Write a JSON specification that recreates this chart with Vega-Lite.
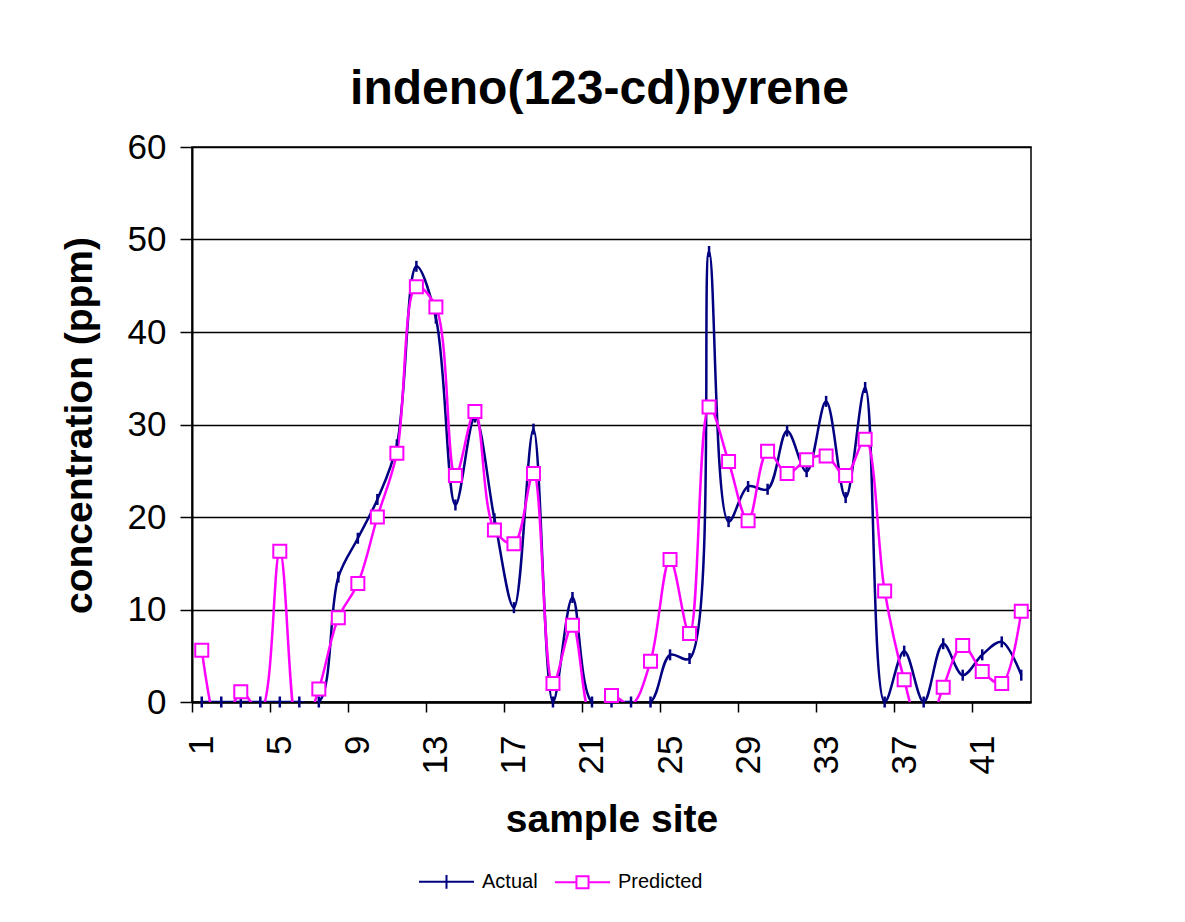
{
  "$schema": "https://vega.github.io/schema/vega-lite/v6.json",
  "width": 839,
  "height": 555,
  "autosize": {"type": "none"},
  "padding": {"left": 192, "top": 147, "right": 154, "bottom": 220},
  "background": "white",
  "config": {
    "font": "Liberation Sans",
    "view": {"stroke": "black", "strokeWidth": 1.5},
    "axis": {"labelFont": "Liberation Sans", "titleFont": "Liberation Sans", "labelColor": "black", "titleColor": "black", "domainColor": "black", "tickColor": "black", "gridColor": "black"},
    "legend": {"labelFont": "Liberation Sans", "labelColor": "black"}
  },
  "title": {"text": "indeno(123-cd)pyrene", "fontSize": 48, "fontWeight": "bold", "font": "Liberation Sans", "color": "black", "anchor": "middle", "dx": -12, "offset": -22, "baseline": "alphabetic"},
  "data": {"values": [
    {"site":1,"series":"Actual","value":0},{"site":2,"series":"Actual","value":0},{"site":3,"series":"Actual","value":0},{"site":4,"series":"Actual","value":0},{"site":5,"series":"Actual","value":0},{"site":6,"series":"Actual","value":0},{"site":7,"series":"Actual","value":0},{"site":8,"series":"Actual","value":13.5},{"site":9,"series":"Actual","value":17.7},{"site":10,"series":"Actual","value":21.9},{"site":11,"series":"Actual","value":27.8},{"site":12,"series":"Actual","value":47.1},{"site":13,"series":"Actual","value":41.5},{"site":14,"series":"Actual","value":21.3},{"site":15,"series":"Actual","value":30.8},{"site":16,"series":"Actual","value":19.8},{"site":17,"series":"Actual","value":10.2},{"site":18,"series":"Actual","value":29.5},{"site":19,"series":"Actual","value":0},{"site":20,"series":"Actual","value":11.3},{"site":21,"series":"Actual","value":0},{"site":22,"series":"Actual","value":0},{"site":23,"series":"Actual","value":0},{"site":24,"series":"Actual","value":0},{"site":25,"series":"Actual","value":5.1},{"site":26,"series":"Actual","value":4.7},{"site":27,"series":"Actual","value":48.7},{"site":28,"series":"Actual","value":19.5},{"site":29,"series":"Actual","value":23.3},{"site":30,"series":"Actual","value":23.0},{"site":31,"series":"Actual","value":29.3},{"site":32,"series":"Actual","value":24.9},{"site":33,"series":"Actual","value":32.5},{"site":34,"series":"Actual","value":22.1},{"site":35,"series":"Actual","value":34.0},{"site":36,"series":"Actual","value":0},{"site":37,"series":"Actual","value":5.5},{"site":38,"series":"Actual","value":0},{"site":39,"series":"Actual","value":6.3},{"site":40,"series":"Actual","value":2.9},{"site":41,"series":"Actual","value":5.1},{"site":42,"series":"Actual","value":6.5},{"site":43,"series":"Actual","value":2.9},
    {"site":1,"series":"Predicted","value":5.6},{"site":2,"series":"Predicted","value":-4},{"site":3,"series":"Predicted","value":1.1},{"site":4,"series":"Predicted","value":-1},{"site":5,"series":"Predicted","value":16.3},{"site":6,"series":"Predicted","value":-4},{"site":7,"series":"Predicted","value":1.4},{"site":8,"series":"Predicted","value":9.1},{"site":9,"series":"Predicted","value":12.8},{"site":10,"series":"Predicted","value":20.0},{"site":11,"series":"Predicted","value":26.9},{"site":12,"series":"Predicted","value":44.9},{"site":13,"series":"Predicted","value":42.7},{"site":14,"series":"Predicted","value":24.5},{"site":15,"series":"Predicted","value":31.4},{"site":16,"series":"Predicted","value":18.6},{"site":17,"series":"Predicted","value":17.1},{"site":18,"series":"Predicted","value":24.7},{"site":19,"series":"Predicted","value":2.0},{"site":20,"series":"Predicted","value":8.3},{"site":21,"series":"Predicted","value":-1.8},{"site":22,"series":"Predicted","value":0.7},{"site":23,"series":"Predicted","value":-0.3},{"site":24,"series":"Predicted","value":4.4},{"site":25,"series":"Predicted","value":15.4},{"site":26,"series":"Predicted","value":7.4},{"site":27,"series":"Predicted","value":31.9},{"site":28,"series":"Predicted","value":26.0},{"site":29,"series":"Predicted","value":19.6},{"site":30,"series":"Predicted","value":27.1},{"site":31,"series":"Predicted","value":24.7},{"site":32,"series":"Predicted","value":26.2},{"site":33,"series":"Predicted","value":26.6},{"site":34,"series":"Predicted","value":24.5},{"site":35,"series":"Predicted","value":28.4},{"site":36,"series":"Predicted","value":12.0},{"site":37,"series":"Predicted","value":2.4},{"site":38,"series":"Predicted","value":-4},{"site":39,"series":"Predicted","value":1.6},{"site":40,"series":"Predicted","value":6.1},{"site":41,"series":"Predicted","value":3.3},{"site":42,"series":"Predicted","value":2.0},{"site":43,"series":"Predicted","value":9.8}
  ]},
  "layer": [
    {
      "mark": {"type": "line", "interpolate": "catmull-rom", "strokeWidth": 2.5, "clip": true},
      "encoding": {
        "x": {"field": "site", "type": "quantitative",
          "scale": {"domain": [0.5, 43.5], "nice": false, "zero": false},
          "axis": {
            "values": [0.5,1.5,2.5,3.5,4.5,5.5,6.5,7.5,8.5,9.5,10.5,11.5,12.5,13.5,14.5,15.5,16.5,17.5,18.5,19.5,20.5,21.5,22.5,23.5,24.5,25.5,26.5,27.5,28.5,29.5,30.5,31.5,32.5,33.5,34.5,35.5,36.5,37.5,38.5,39.5,40.5,41.5,42.5,43.5],
            "labelExpr": "(datum.value - 0.5) % 4 == 0 && datum.value < 42 ? '' + (datum.value + 0.5) : ''",
            "labelAngle": 270, "labelAlign": "right", "labelBaseline": "middle",
            "labelOffset": 9.76, "labelFontSize": 35, "labelPadding": 23,
            "labelFlush": false, "labelOverlap": false, "labelBound": false,
            "tickSize": 10, "tickWidth": 1.5, "domainWidth": 2.5, "grid": false,
            "title": "sample site", "titleFontSize": 39, "titleFontWeight": "bold",
            "titleX": 419.5, "titleY": 129, "titleBaseline": "alphabetic", "titleAlign": "center"
          }
        },
        "y": {"field": "value", "type": "quantitative",
          "scale": {"domain": [0, 60], "nice": false},
          "axis": {
            "values": [0,10,20,30,40,50,60], "grid": true, "gridWidth": 1.5,
            "tickSize": 12, "tickWidth": 1.5, "domainWidth": 2,
            "labelFontSize": 35, "labelPadding": 14, "labelFlush": false, "labelOverlap": false,
            "title": "concentration (ppm)", "titleFontSize": 39, "titleFontWeight": "bold",
            "titleX": -101, "titleY": 278, "titleAngle": 270, "titleBaseline": "alphabetic", "titleAlign": "center"
          }
        },
        "color": {"field": "series", "type": "nominal",
          "scale": {"domain": ["Actual", "Predicted"], "range": ["#000080", "#FF00FF"]},
          "legend": null}
      }
    },
    {
      "transform": [{"filter": "datum.series == 'Actual' && datum.value >= 0"}],
      "mark": {"type": "point", "shape": "M0,-1L0,1", "size": 121, "filled": false, "stroke": "#000080", "strokeWidth": 2.5, "opacity": 1},
      "encoding": {
        "x": {"field": "site", "type": "quantitative"},
        "y": {"field": "value", "type": "quantitative"}
      }
    },
    {
      "transform": [{"filter": "datum.series == 'Predicted' && datum.value >= 0"}],
      "mark": {"type": "point", "shape": "square", "size": 169, "fill": "white", "stroke": "#FF00FF", "strokeWidth": 2, "opacity": 1},
      "encoding": {
        "x": {"field": "site", "type": "quantitative"},
        "y": {"field": "value", "type": "quantitative"}
      }
    },
    {
      "mark": {"type": "point", "opacity": 0, "filled": false, "strokeWidth": 2},
      "encoding": {
        "x": {"field": "site", "type": "quantitative"},
        "y": {"field": "value", "type": "quantitative"},
        "color": {"field": "series", "type": "nominal",
          "scale": {"domain": ["Actual", "Predicted"], "range": ["#000080", "#FF00FF"]},
          "legend": {"orient": "none", "legendX": 226, "legendY": 706, "direction": "horizontal", "title": null,
            "symbolSize": 3025, "symbolStrokeWidth": 2, "symbolOpacity": 1, "labelFontSize": 20, "labelOffset": 7, "columnPadding": 13, "padding": 0}},
        "shape": {"field": "series", "type": "nominal",
          "scale": {"domain": ["Actual", "Predicted"], "range": ["M-1,0L1,0M0,-0.25L0,0.25", "M-1,0L-0.22,0M0.22,0L1,0M-0.22,-0.22L0.22,-0.22L0.22,0.22L-0.22,0.22Z"]},
          "legend": {"orient": "none", "legendX": 226, "legendY": 706, "direction": "horizontal", "title": null,
            "symbolSize": 3025, "symbolStrokeWidth": 2, "symbolOpacity": 1, "labelFontSize": 20, "labelOffset": 7, "columnPadding": 13, "padding": 0}}
      }
    }
  ],
  "resolve": {"scale": {"color": "independent", "shape": "independent"}}
}
